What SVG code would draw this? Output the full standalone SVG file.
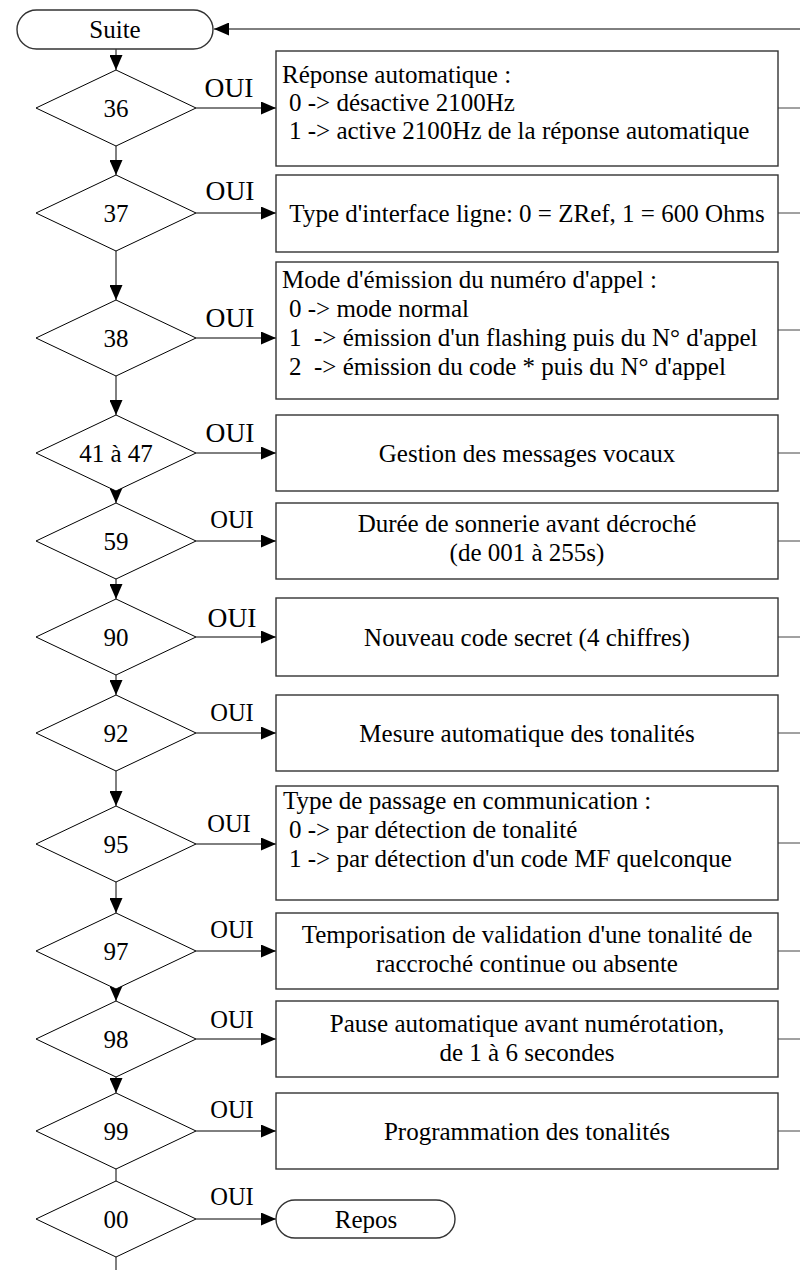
<svg xmlns="http://www.w3.org/2000/svg" width="800" height="1270" viewBox="0 0 800 1270">
<style>
text{font-family:"Liberation Serif","Times New Roman",serif;fill:#000}
.t{font-size:25px}
.c{text-anchor:middle}
.oa{font-size:27.5px;text-anchor:middle}
.ob{font-size:24.5px;text-anchor:middle}
.box{fill:#fff;stroke:#333;stroke-width:1.4}
.dia{fill:#fff;stroke:#000;stroke-width:1}
.ln{stroke:#000;stroke-width:1;fill:none}
.rl{stroke:#444;stroke-width:1;fill:none}
</style>
<defs>
<marker id="ah" viewBox="0 0 15 13" refX="15" refY="6.5" markerWidth="15" markerHeight="13" markerUnits="userSpaceOnUse" orient="auto">
<path d="M0,0 L15,6.5 L0,13 Z" fill="#000"/>
</marker>
</defs>
<g id="connectors">
<line class="ln" x1="800" y1="29" x2="214" y2="29" marker-end="url(#ah)"/>
<line class="ln" x1="116" y1="49" x2="116" y2="70" marker-end="url(#ah)"/>
<line class="ln" x1="116" y1="146" x2="116" y2="175" marker-end="url(#ah)"/>
<line class="ln" x1="116" y1="251" x2="116" y2="300" marker-end="url(#ah)"/>
<line class="ln" x1="116" y1="376" x2="116" y2="415" marker-end="url(#ah)"/>
<line class="ln" x1="116" y1="488" x2="116" y2="503" marker-end="url(#ah)"/>
<line class="ln" x1="116" y1="579" x2="116" y2="599" marker-end="url(#ah)"/>
<line class="ln" x1="116" y1="675" x2="116" y2="695" marker-end="url(#ah)"/>
<line class="ln" x1="116" y1="771" x2="116" y2="806" marker-end="url(#ah)"/>
<line class="ln" x1="116" y1="882" x2="116" y2="913" marker-end="url(#ah)"/>
<line class="ln" x1="116" y1="986" x2="116" y2="1001" marker-end="url(#ah)"/>
<line class="ln" x1="116" y1="1077" x2="116" y2="1093" marker-end="url(#ah)"/>
<line class="ln" x1="116" y1="1169" x2="116" y2="1181"/>
<line class="ln" x1="116" y1="1257" x2="116" y2="1270"/>
<line class="ln" x1="196" y1="108" x2="276" y2="108" marker-end="url(#ah)"/>
<line class="ln" x1="196" y1="213" x2="276" y2="213" marker-end="url(#ah)"/>
<line class="ln" x1="196" y1="338" x2="276" y2="338" marker-end="url(#ah)"/>
<line class="ln" x1="196" y1="453" x2="276" y2="453" marker-end="url(#ah)"/>
<line class="ln" x1="196" y1="541" x2="276" y2="541" marker-end="url(#ah)"/>
<line class="ln" x1="196" y1="637" x2="276" y2="637" marker-end="url(#ah)"/>
<line class="ln" x1="196" y1="733" x2="276" y2="733" marker-end="url(#ah)"/>
<line class="ln" x1="196" y1="844" x2="276" y2="844" marker-end="url(#ah)"/>
<line class="ln" x1="196" y1="951" x2="276" y2="951" marker-end="url(#ah)"/>
<line class="ln" x1="196" y1="1039" x2="276" y2="1039" marker-end="url(#ah)"/>
<line class="ln" x1="196" y1="1131" x2="276" y2="1131" marker-end="url(#ah)"/>
<line class="ln" x1="196" y1="1219" x2="276" y2="1219" marker-end="url(#ah)"/>
<line class="rl" x1="778" y1="108" x2="800" y2="108"/>
<line class="rl" x1="778" y1="213" x2="800" y2="213"/>
<line class="rl" x1="778" y1="330" x2="800" y2="330"/>
<line class="rl" x1="778" y1="453" x2="800" y2="453"/>
<line class="rl" x1="778" y1="541" x2="800" y2="541"/>
<line class="rl" x1="778" y1="637" x2="800" y2="637"/>
<line class="rl" x1="778" y1="733" x2="800" y2="733"/>
<line class="rl" x1="778" y1="843" x2="800" y2="843"/>
<line class="rl" x1="778" y1="951" x2="800" y2="951"/>
<line class="rl" x1="778" y1="1039" x2="800" y2="1039"/>
<line class="rl" x1="778" y1="1131" x2="800" y2="1131"/>
<text class="oa" x="229" y="97">OUI</text>
<text class="oa" x="230" y="200">OUI</text>
<text class="oa" x="230" y="327">OUI</text>
<text class="oa" x="230" y="442">OUI</text>
<text class="ob" x="232" y="528">OUI</text>
<text class="oa" x="232" y="627">OUI</text>
<text class="ob" x="232" y="721">OUI</text>
<text class="ob" x="229" y="832">OUI</text>
<text class="ob" x="232" y="938">OUI</text>
<text class="ob" x="232" y="1028">OUI</text>
<text class="ob" x="232" y="1118">OUI</text>
<text class="ob" x="232" y="1205">OUI</text>
</g>
<g id="suite">
<rect x="17" y="10" width="196" height="39" rx="19.5" class="box" stroke="#000"/>
<text class="t c" x="115" y="38">Suite</text>
</g>
<g id="d36"><polygon class="dia" points="36,108 116,70 196,108 116,146"/><text class="t c" x="116" y="117">36</text></g>
<g id="d37"><polygon class="dia" points="36,213 116,175 196,213 116,251"/><text class="t c" x="116" y="222">37</text></g>
<g id="d38"><polygon class="dia" points="36,338 116,300 196,338 116,376"/><text class="t c" x="116" y="347">38</text></g>
<g id="d41"><polygon class="dia" points="36,453 116,415 196,453 116,491"/><text class="t c" x="116" y="462">41 à 47</text></g>
<g id="d59"><polygon class="dia" points="36,541 116,503 196,541 116,579"/><text class="t c" x="116" y="550">59</text></g>
<g id="d90"><polygon class="dia" points="36,637 116,599 196,637 116,675"/><text class="t c" x="116" y="646">90</text></g>
<g id="d92"><polygon class="dia" points="36,733 116,695 196,733 116,771"/><text class="t c" x="116" y="742">92</text></g>
<g id="d95"><polygon class="dia" points="36,844 116,806 196,844 116,882"/><text class="t c" x="116" y="853">95</text></g>
<g id="d97"><polygon class="dia" points="36,951 116,913 196,951 116,989"/><text class="t c" x="116" y="960">97</text></g>
<g id="d98"><polygon class="dia" points="36,1039 116,1001 196,1039 116,1077"/><text class="t c" x="116" y="1048">98</text></g>
<g id="d99"><polygon class="dia" points="36,1131 116,1093 196,1131 116,1169"/><text class="t c" x="116" y="1140">99</text></g>
<g id="d00"><polygon class="dia" points="36,1219 116,1181 196,1219 116,1257"/><text class="t c" x="116" y="1228">00</text></g>
<g id="b36"><rect class="box" x="276" y="51" width="502" height="115"/>
<text class="t" x="282" y="83">Réponse automatique :</text>
<text class="t" x="289" y="111">0 -&gt; désactive 2100Hz</text>
<text class="t" x="289" y="139">1 -&gt; active 2100Hz de la réponse automatique</text></g>
<g id="b37"><rect class="box" x="276" y="175" width="502" height="77"/>
<text class="t c" x="527" y="222">Type d'interface ligne: 0 = ZRef, 1 = 600 Ohms</text></g>
<g id="b38"><rect class="box" x="276" y="262" width="502" height="137"/>
<text class="t" x="282" y="288">Mode d'émission du numéro d'appel :</text>
<text class="t" x="289" y="317">0 -&gt; mode normal</text>
<text class="t" x="289" y="346" xml:space="preserve">1  -&gt; émission d'un flashing puis du N° d'appel</text>
<text class="t" x="289" y="375" xml:space="preserve">2  -&gt; émission du code * puis du N° d'appel</text></g>
<g id="b41"><rect class="box" x="276" y="415" width="502" height="76"/>
<text class="t c" x="527" y="462">Gestion des messages vocaux</text></g>
<g id="b59"><rect class="box" x="276" y="503" width="502" height="76"/>
<text class="t c" x="527" y="532">Durée de sonnerie avant décroché</text>
<text class="t c" x="527" y="561">(de 001 à 255s)</text></g>
<g id="b90"><rect class="box" x="276" y="598" width="502" height="78"/>
<text class="t c" x="527" y="646">Nouveau code secret (4 chiffres)</text></g>
<g id="b92"><rect class="box" x="276" y="695" width="502" height="76"/>
<text class="t c" x="527" y="742">Mesure automatique des tonalités</text></g>
<g id="b95"><rect class="box" x="276" y="786" width="502" height="114"/>
<text class="t" x="283" y="809">Type de passage en communication :</text>
<text class="t" x="289" y="838">0 -&gt; par détection de tonalité</text>
<text class="t" x="289" y="867">1 -&gt; par détection d'un code MF quelconque</text></g>
<g id="b97"><rect class="box" x="276" y="913" width="502" height="76"/>
<text class="t c" x="527" y="943">Temporisation de validation d'une tonalité de</text>
<text class="t c" x="527" y="972">raccroché continue ou absente</text></g>
<g id="b98"><rect class="box" x="276" y="1001" width="502" height="76"/>
<text class="t c" x="527" y="1032">Pause automatique avant numérotation,</text>
<text class="t c" x="527" y="1061">de 1 à 6 secondes</text></g>
<g id="b99"><rect class="box" x="276" y="1093" width="502" height="76"/>
<text class="t c" x="527" y="1140">Programmation des tonalités</text></g>
<g id="repos"><rect class="box" x="276" y="1200" width="179" height="38" rx="19" stroke="#000"/>
<text class="t c" x="366" y="1228">Repos</text></g>
</svg>
